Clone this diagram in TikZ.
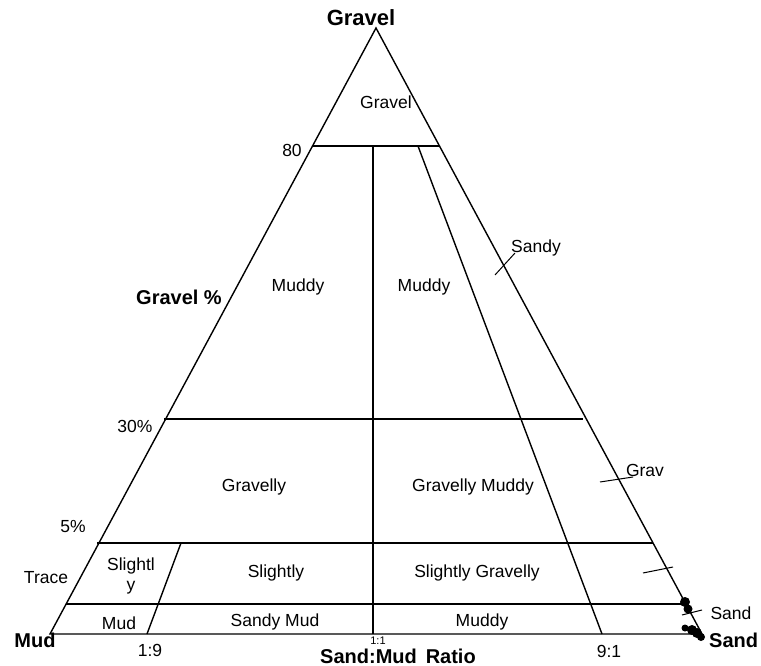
\documentclass[tikz,border=0pt]{standalone}
\usepackage{fontspec}
\setmainfont{Liberation Sans}

\begin{document}
\begin{tikzpicture}
[
    x = 1pt, y = -1pt,
    every node/.style = {inner sep = 0pt, align = center},
    region/.style = {font = \fontsize{17.5}{20}\selectfont},
    corner/.style = {font = \fontsize{20}{22}\selectfont\bfseries},
    border/.style = {line width = 1.4pt},
    tick/.style = {line width = 1pt},
    sample/.style = {circle, fill, minimum size = #1}
]
\useasboundingbox (0,0) rectangle (761,666);

% corners of the triangle
\coordinate (G) at (376,28);
\coordinate (M) at (50,634);
\coordinate (S) at (702,634);
\draw[border] (M) -- (G) -- (S) -- cycle;

% gravel classes
\coordinate (g80l) at (312,146);  \coordinate (g80r) at (440,146);
\coordinate (g30l) at (164,419);  \coordinate (g30r) at (583,419);
\coordinate (g5l)  at (97,543);   \coordinate (g5r)  at (653,543);
\coordinate (trl)  at (66,604);   \coordinate (trr)  at (683,604);
\draw[border] (g80l) -- (g80r);
\draw[border] (g30l) -- (g30r);
\draw[border] (g5l) -- (g5r);
\draw[border] (trl) -- (trr);
\draw[line width = 2.5pt] (670,604) -- (trr);

% sand:mud ratios
\coordinate (r11t) at (373,146);  \coordinate (r11b) at (373,634);
\coordinate (r91t) at (418,146);  \coordinate (r91b) at (602,634);
\coordinate (r19t) at (181,543);  \coordinate (r19b) at (147,634);
\draw[border] (r11t) -- (r11b);
\draw[border] (r91t) -- (r91b);
\draw[border] (r19t) -- (r19b);

% ticks on the right side
\draw[tick] (495,275) -- (515,253);
\draw[tick] (600,482) -- (633,477);
\draw[tick] (643,573) -- (673,567);
\draw[tick] (682,615) -- (702,610);

% samples
\node[sample = 10pt] (s1) at (685,602) {};
\node[sample = 9pt] (s2) at (688,609) {};
\node[sample = 7pt] (s3) at (685,628) {};
\node[sample = 10pt] (s4) at (692,630) {};
\node[sample = 10pt] (s5) at (697,633) {};
\node[sample = 8pt] (s6) at (701,637) {};

% end members and axes
\node[corner, font = \fontsize{22}{24}\selectfont\bfseries] (tGravel) at (361,18) {Gravel};
\node[corner] (tMud) at (35,640) {Mud};
\node[corner, anchor = west] (tSand) at (709,640) {Sand};
\node[corner] (tGravelPct) at (179,297) {Gravel \%};
\node[region, font = \fontsize{11}{13}\selectfont] (t11) at (378,641) {1:1};
\node[corner] (tRatio) at (398,656) {Sand:Mud\, Ratio};
\node[region] (t80) at (292,150) {80};
\node[region] (t30) at (135,426) {30\%};
\node[region] (t5) at (73,527) {5\%};
\node[region] (tTrace) at (46,578) {Trace};
\node[region] (t19) at (150,650) {1:9};
\node[region] (t91) at (609,651) {9:1};

% class names
\node[region] (cGravel) at (386,102) {Gravel};
\node[region] (cMuddyL) at (298,287) {Muddy};
\node[region] (cMuddyR) at (424,287) {Muddy};
\node[region] (cSandy) at (536,248) {Sandy};
\node[region] (cGravelly) at (254,487) {Gravelly};
\node[region] (cGravMuddy) at (473,487) {Gravelly Muddy};
\node[region] (cGrav) at (645,470) {Grav};
\node[region] (cSlightlyL) at (131,576) {Slightl\\y};
\node[region] (cSlightly) at (276,573) {Slightly};
\node[region] (cSlGravelly) at (477,573) {Slightly Gravelly};
\node[region] (cMud) at (119,623) {Mud};
\node[region] (cSandyMud) at (275,622) {Sandy Mud};
\node[region] (cMuddyB) at (482,622) {Muddy};
\node[region] (cSand) at (731,613) {Sand};
\end{tikzpicture}
\end{document}
